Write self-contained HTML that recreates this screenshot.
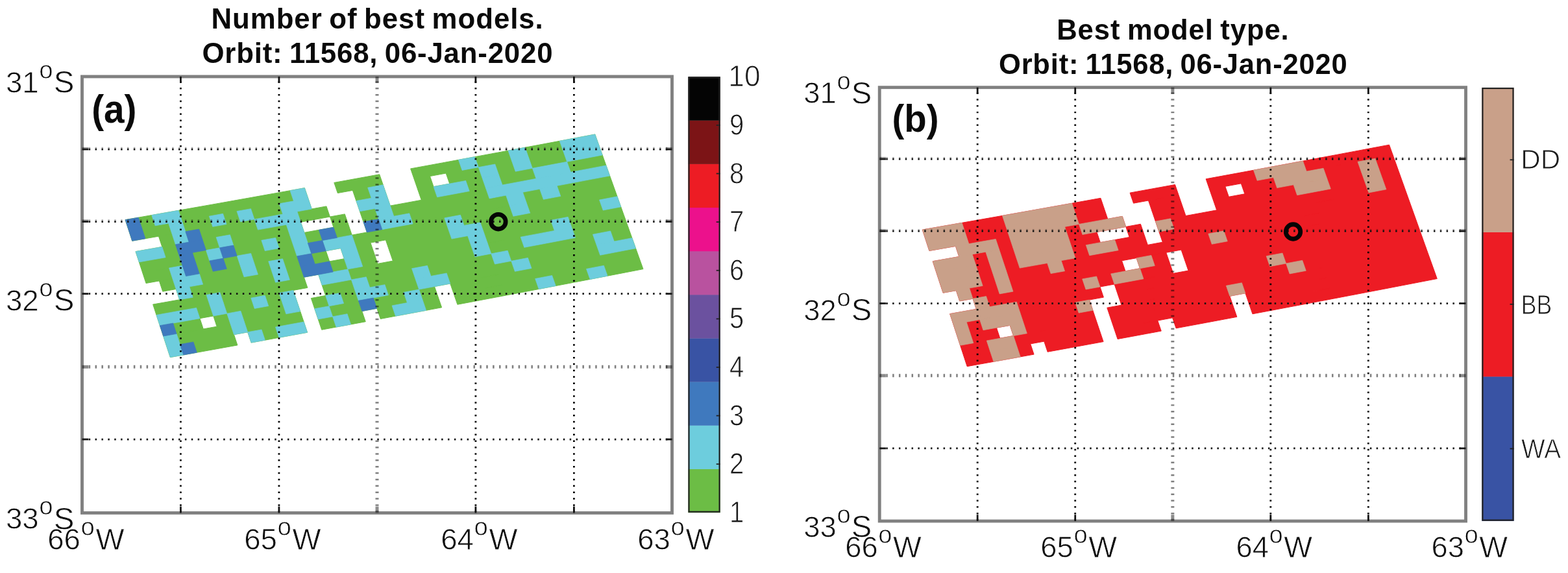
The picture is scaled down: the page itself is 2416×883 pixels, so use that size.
<!DOCTYPE html>
<html><head><meta charset="utf-8"><title>Best models</title>
<style>html,body{margin:0;padding:0;background:#fff}svg{display:block}</style></head>
<body>
<svg width="2416" height="883" viewBox="0 0 2416 883">
<style>
text{font-family:"Liberation Sans",sans-serif;fill:#0d0d0d}
.ttl{font-weight:bold;text-anchor:middle;fill:#0a0a0a;letter-spacing:0.95px;word-spacing:-2.5px}
.pl{font-weight:bold;fill:#0a0a0a}
.cb{fill:#1a1a1a;stroke:#fff;stroke-width:0.9px}
.lab{stroke:#fff;stroke-width:0.8px}
line{fill:none}
.gv{stroke:#000}
.gv3{stroke:rgba(0,0,0,0.5)}
.gh1{stroke:rgba(0,0,0,0.33)}
.gh2{stroke:#111}
.tv{stroke:#111}
.tv3{stroke:rgba(0,0,0,0.45)}
.th1{stroke:rgba(0,0,0,0.4)}
.th2{stroke:#151515}
.box{stroke:#808080;fill:none}
.cbb{stroke:#222;stroke-width:2.2;fill:none}
.cbt{stroke:#222;stroke-width:1.8}
.mk{stroke:#050505;stroke-width:6.8;fill:none}
</style>
<defs><filter id="soft" x="0" y="0" width="100%" height="100%" filterUnits="userSpaceOnUse" color-interpolation-filters="sRGB"><feGaussianBlur stdDeviation="0.6"/></filter><filter id="soft2" x="0" y="0" width="100%" height="100%" filterUnits="userSpaceOnUse" color-interpolation-filters="sRGB"><feGaussianBlur stdDeviation="0.4"/></filter></defs>
<rect width="2416" height="883" fill="#fff"/>
<g id="cellsA" filter="url(#soft)"><path fill="#6cbd45" stroke="#6cbd45" stroke-width="1" stroke-linejoin="round" d="M193.00 338.70L213.30 335.15L233.73 331.57L254.30 327.95L275.01 324.30L295.89 320.61L316.93 316.89L338.14 313.13L359.52 309.32L381.09 305.48L402.85 301.59L424.81 297.65L446.98 293.67L469.36 289.64L474.84 305.82L452.44 309.85L430.26 313.85L408.29 317.79L386.52 321.69L364.94 325.54L343.54 329.36L322.32 333.13L301.27 336.87L280.39 340.56L259.66 344.22L239.08 347.85L218.64 351.44L198.33 355.00ZM514.79 281.43L537.85 277.25L561.15 273.01L584.71 268.72L590.24 284.84L566.68 289.14L543.36 293.39L520.29 297.59ZM632.59 259.95L656.93 255.48L681.54 250.95L706.45 246.35L731.64 241.68L757.14 236.94L782.95 232.14L809.06 227.26L835.50 222.31L862.26 217.29L889.36 212.18L916.80 207.00L922.51 222.97L895.05 228.16L867.94 233.28L841.16 238.32L814.71 243.28L788.59 248.17L762.77 252.99L737.26 257.73L712.05 262.41L687.13 267.02L662.50 271.57L638.15 276.05ZM198.33 355.00L218.64 351.44L239.08 347.85L259.66 344.22L280.39 340.56L301.27 336.87L322.32 333.13L343.54 329.36L364.94 325.54L386.52 321.69L408.29 317.79L430.26 313.85L452.44 309.85L474.84 305.82L480.31 321.99L457.91 326.04L435.71 330.04L413.73 333.99L391.95 337.90L370.36 341.77L348.95 345.59L327.72 349.37L306.66 353.12L285.76 356.82L265.02 360.49L244.43 364.13L223.98 367.73L203.66 371.30ZM543.36 293.39L566.68 289.14L590.24 284.84L595.78 300.96L572.20 305.28L548.87 309.53ZM638.15 276.05L662.50 271.57L668.07 287.66L643.70 292.15ZM687.13 267.02L712.05 262.41L737.26 257.73L762.77 252.99L788.59 248.17L814.71 243.28L841.16 238.32L867.94 233.28L895.05 228.16L922.51 222.97L928.22 238.94L900.75 244.15L873.62 249.27L846.83 254.33L820.37 259.30L794.22 264.20L768.39 269.03L742.87 273.79L717.65 278.48L692.71 283.10ZM244.43 364.13L265.02 360.49L285.76 356.82L306.66 353.12L327.72 349.37L348.95 345.59L370.36 341.77L391.95 337.90L413.73 333.99L435.71 330.04L457.91 326.04L480.31 321.99L502.93 317.89L508.42 334.05L485.79 338.16L463.37 342.22L441.17 346.23L419.17 350.20L397.38 354.12L375.78 357.99L354.36 361.83L333.11 365.62L312.04 369.37L291.13 373.09L270.39 376.77L249.78 380.41ZM548.87 309.53L572.20 305.28L595.78 300.96L601.31 317.08L577.72 321.41L554.38 325.68ZM643.70 292.15L668.07 287.66L692.71 283.10L717.65 278.48L742.87 273.79L768.39 269.03L794.22 264.20L820.37 259.30L846.83 254.33L873.62 249.27L900.75 244.15L928.22 238.94L933.92 254.91L906.44 260.13L879.30 265.27L852.49 270.33L826.02 275.32L799.86 280.23L774.02 285.07L748.48 289.84L723.24 294.54L698.30 299.18L673.64 303.75L649.26 308.25ZM208.99 387.60L229.32 384.02L249.78 380.41L270.39 376.77L291.13 373.09L312.04 369.37L333.11 365.62L354.36 361.83L375.78 357.99L397.38 354.12L419.17 350.20L441.17 346.23L463.37 342.22L468.83 358.41L446.62 362.43L424.61 366.40L402.81 370.33L381.19 374.22L359.76 378.06L338.51 381.86L317.43 385.62L296.51 389.35L275.75 393.04L255.14 396.69L234.66 400.31L214.32 403.90ZM508.42 334.05L531.28 329.89L536.78 346.04L513.90 350.22ZM554.38 325.68L577.72 321.41L601.31 317.08L625.15 312.70L649.26 308.25L673.64 303.75L698.30 299.18L723.24 294.54L748.48 289.84L774.02 285.07L799.86 280.23L826.02 275.32L852.49 270.33L879.30 265.27L906.44 260.13L933.92 254.91L939.63 270.88L912.13 276.11L884.98 281.26L858.16 286.34L831.67 291.34L805.50 296.26L779.64 301.11L754.09 305.90L728.84 310.61L703.88 315.25L679.22 319.83L654.82 324.35L630.70 328.81L606.85 333.20L583.24 337.54L559.89 341.82ZM214.32 403.90L234.66 400.31L255.14 396.69L275.75 393.04L296.51 389.35L317.43 385.62L338.51 381.86L359.76 378.06L381.19 374.22L402.81 370.33L424.61 366.40L446.62 362.43L468.83 358.41L491.26 354.34L513.90 350.22L536.78 346.04L542.28 362.20L519.39 366.38L496.73 370.51L474.30 374.59L452.07 378.62L430.05 382.61L408.24 386.55L386.61 390.44L365.17 394.29L343.91 398.11L322.81 401.88L301.88 405.61L281.11 409.31L260.49 412.97L240.00 416.60L219.65 420.20ZM559.89 341.82L583.24 337.54L606.85 333.20L630.70 328.81L654.82 324.35L679.22 319.83L703.88 315.25L728.84 310.61L754.09 305.90L779.64 301.11L805.50 296.26L831.67 291.34L858.16 286.34L884.98 281.26L912.13 276.11L939.63 270.88L945.34 286.85L917.83 292.09L890.66 297.26L863.82 302.34L837.32 307.35L811.14 312.29L785.27 317.16L759.70 321.95L734.44 326.67L709.47 331.33L684.79 335.92L660.38 340.45L636.25 344.92L612.38 349.32L588.77 353.67L565.40 357.96ZM219.65 420.20L240.00 416.60L260.49 412.97L281.11 409.31L301.88 405.61L322.81 401.88L343.91 398.11L365.17 394.29L386.61 390.44L408.24 386.55L430.05 382.61L452.07 378.62L474.30 374.59L496.73 370.51L519.39 366.38L542.28 362.20L565.40 357.96L588.77 353.67L612.38 349.32L636.25 344.92L660.38 340.45L684.79 335.92L709.47 331.33L734.44 326.67L759.70 321.95L785.27 317.16L811.14 312.29L837.32 307.35L863.82 302.34L890.66 297.26L917.83 292.09L945.34 286.85L951.05 302.82L923.52 308.07L896.34 313.25L869.49 318.35L842.97 323.37L816.78 328.32L790.89 333.20L765.31 338.00L740.04 342.74L715.05 347.41L690.36 352.01L665.94 356.55L641.79 361.03L617.91 365.44L594.29 369.80L570.91 374.10L547.78 378.35L524.88 382.54L502.21 386.68L479.76 390.77L457.52 394.82L435.49 398.81L413.67 402.76L392.03 406.66L370.57 410.53L349.30 414.35L328.19 418.13L307.25 421.87L286.47 425.58L265.84 429.25L245.34 432.89L224.98 436.50ZM245.34 432.89L265.84 429.25L286.47 425.58L307.25 421.87L328.19 418.13L349.30 414.35L370.57 410.53L392.03 406.66L413.67 402.76L435.49 398.81L457.52 394.82L479.76 390.77L502.21 386.68L507.68 402.86L485.22 406.96L462.97 411.01L440.93 415.02L419.09 418.97L397.45 422.89L375.98 426.76L354.70 430.59L333.58 434.38L312.63 438.14L291.84 441.85L271.19 445.54L250.68 449.18ZM524.88 382.54L547.78 378.35L570.91 374.10L576.42 390.25L553.28 394.50L530.36 398.71ZM594.29 369.80L617.91 365.44L641.79 361.03L665.94 356.55L690.36 352.01L715.05 347.41L740.04 342.74L765.31 338.00L790.89 333.20L816.78 328.32L842.97 323.37L869.49 318.35L896.34 313.25L923.52 308.07L951.05 302.82L956.75 318.78L929.21 324.05L902.02 329.24L875.15 334.36L848.62 339.39L822.41 344.35L796.52 349.24L770.92 354.06L745.64 358.80L720.64 363.48L695.93 368.10L671.50 372.65L647.34 377.14L623.45 381.56L599.81 385.93ZM271.19 445.54L291.84 441.85L312.63 438.14L333.58 434.38L354.70 430.59L375.98 426.76L397.45 422.89L419.09 418.97L440.93 415.02L462.97 411.01L485.22 406.96L507.68 402.86L530.36 398.71L553.28 394.50L576.42 390.25L581.93 406.39L558.77 410.66L535.85 414.87L513.16 419.03L490.69 423.14L468.42 427.20L446.37 431.22L424.52 435.19L402.86 439.11L381.39 442.99L360.09 446.84L338.96 450.64L318.00 454.40L297.20 458.13L276.54 461.82ZM599.81 385.93L623.45 381.56L647.34 377.14L671.50 372.65L695.93 368.10L720.64 363.48L745.64 358.80L770.92 354.06L796.52 349.24L822.41 344.35L848.62 339.39L875.15 334.36L902.02 329.24L929.21 324.05L956.75 318.78L962.46 334.75L934.91 340.04L907.70 345.24L880.82 350.36L854.28 355.41L828.05 360.38L802.14 365.28L776.53 370.11L751.23 374.87L726.22 379.56L701.51 384.19L677.06 388.75L652.89 393.25L628.98 397.69L605.33 402.07ZM235.65 469.10L256.03 465.47L276.54 461.82L297.20 458.13L318.00 454.40L338.96 450.64L360.09 446.84L381.39 442.99L402.86 439.11L424.52 435.19L446.37 431.22L468.42 427.20L473.87 443.40L451.81 447.42L429.95 451.40L408.28 455.34L386.79 459.23L365.49 463.08L344.35 466.89L323.38 470.66L302.56 474.40L281.90 478.10L261.37 481.77L240.98 485.40ZM490.69 423.14L513.16 419.03L535.85 414.87L558.77 410.66L581.93 406.39L605.33 402.07L628.98 397.69L652.89 393.25L677.06 388.75L701.51 384.19L726.22 379.56L751.23 374.87L776.53 370.11L802.14 365.28L828.05 360.38L854.28 355.41L880.82 350.36L907.70 345.24L934.91 340.04L962.46 334.75L968.17 350.72L940.60 356.02L913.38 361.23L886.48 366.37L859.93 371.43L833.69 376.41L807.77 381.32L782.15 386.16L756.83 390.93L731.81 395.64L707.08 400.27L682.62 404.85L658.44 409.36L634.52 413.81L610.86 418.20L587.44 422.53L564.27 426.81L541.34 431.03L518.63 435.21L496.15 439.33ZM240.98 485.40L261.37 481.77L281.90 478.10L302.56 474.40L323.38 470.66L344.35 466.89L365.49 463.08L386.79 459.23L408.28 455.34L429.95 451.40L451.81 447.42L457.25 463.63L435.38 467.62L413.70 471.56L392.20 475.46L370.88 479.32L349.73 483.14L328.75 486.92L307.93 490.67L287.25 494.38L266.71 498.06L246.31 501.70ZM496.15 439.33L518.63 435.21L541.34 431.03L564.27 426.81L587.44 422.53L610.86 418.20L634.52 413.81L658.44 409.36L682.62 404.85L707.08 400.27L731.81 395.64L756.83 390.93L782.15 386.16L807.77 381.32L833.69 376.41L859.93 371.43L886.48 366.37L913.38 361.23L940.60 356.02L968.17 350.72L973.88 366.69L946.29 372.00L919.05 377.23L892.15 382.38L865.58 387.45L839.33 392.44L813.39 397.37L787.76 402.22L762.43 407.00L737.40 411.71L712.65 416.36L688.18 420.95L663.98 425.47L640.05 429.93L616.38 434.33L592.95 438.67L569.77 442.96L546.82 447.20L524.11 451.38L501.61 455.51ZM246.31 501.70L266.71 498.06L287.25 494.38L307.93 490.67L313.29 506.94L292.60 510.66L272.05 514.35L251.64 518.00ZM328.75 486.92L349.73 483.14L370.88 479.32L392.20 475.46L413.70 471.56L435.38 467.62L457.25 463.63L462.69 479.83L440.81 483.83L419.12 487.78L397.61 491.70L376.28 495.57L355.12 499.40L334.12 503.19ZM479.33 459.59L501.61 455.51L524.11 451.38L546.82 447.20L569.77 442.96L592.95 438.67L616.38 434.33L640.05 429.93L663.98 425.47L688.18 420.95L712.65 416.36L737.40 411.71L762.43 407.00L787.76 402.22L813.39 397.37L839.33 392.44L865.58 387.45L892.15 382.38L919.05 377.23L946.29 372.00L973.88 366.69L979.58 382.66L951.99 387.98L924.73 393.22L897.81 398.38L871.23 403.47L844.97 408.47L819.01 413.41L793.37 418.27L768.03 423.07L742.98 427.79L718.22 432.45L693.74 437.04L669.53 441.58L645.59 446.05L621.90 450.46L598.46 454.82L575.27 459.12L552.31 463.36L529.58 467.55L507.07 471.69L484.78 475.79ZM251.64 518.00L272.05 514.35L292.60 510.66L313.29 506.94L334.12 503.19L355.12 499.40L376.28 495.57L397.61 491.70L419.12 487.78L440.81 483.83L462.69 479.83L468.13 496.04L446.24 500.04L424.53 504.01L403.01 507.93L381.67 511.81L360.50 515.65L339.50 519.45L318.65 523.21L297.95 526.94L277.39 530.64L256.97 534.30ZM484.78 475.79L507.07 471.69L529.58 467.55L552.31 463.36L575.27 459.12L598.46 454.82L621.90 450.46L645.59 446.05L669.53 441.58L675.08 457.69L651.12 462.17L627.42 466.59L603.97 470.96L580.77 475.27L557.80 479.52L535.06 483.73L512.54 487.88L490.23 491.98ZM693.74 437.04L718.22 432.45L742.98 427.79L768.03 423.07L793.37 418.27L819.01 413.41L844.97 408.47L871.23 403.47L897.81 398.38L924.73 393.22L951.99 387.98L979.58 382.66L985.29 398.63L957.68 403.96L930.41 409.22L903.48 414.39L876.88 419.48L850.60 424.50L824.64 429.45L798.98 434.33L773.63 439.13L748.57 443.87L723.80 448.54L699.30 453.14ZM256.97 534.30L277.39 530.64L297.95 526.94L318.65 523.21L339.50 519.45L360.50 515.65L365.88 531.90L344.87 535.71L324.01 539.49L303.30 543.22L282.73 546.93L262.30 550.60ZM381.67 511.81L403.01 507.93L424.53 504.01L446.24 500.04L468.13 496.04L473.57 512.24L451.67 516.26L429.95 520.23L408.42 524.16L387.07 528.05ZM490.23 491.98L512.54 487.88L535.06 483.73L557.80 479.52L563.28 495.69L540.53 499.90L518.00 504.06L495.68 508.18ZM580.77 475.27L603.97 470.96L627.42 466.59L651.12 462.17L675.08 457.69L680.62 473.80L656.66 478.29L632.95 482.72L609.48 487.10L586.27 491.42ZM699.30 453.14L723.80 448.54L748.57 443.87L773.63 439.13L798.98 434.33L824.64 429.45L850.60 424.50L876.88 419.48L903.48 414.39L930.41 409.22L957.68 403.96L985.29 398.63L991.00 414.60L963.37 419.95L936.09 425.21L909.15 430.40L882.53 435.50L856.24 440.53L830.26 445.49L804.59 450.38L779.23 455.20L754.15 459.94L729.37 464.63L704.86 469.24Z"/>
<path fill="#6dcddd" stroke="#6dcddd" stroke-width="0.7" stroke-linejoin="round" d="M233.73 331.57L254.30 327.95L275.01 324.30L280.39 340.56L259.66 344.22L239.08 347.85ZM446.98 293.67L469.36 289.64L474.84 305.82L452.44 309.85ZM706.45 246.35L731.64 241.68L737.26 257.73L712.05 262.41ZM782.95 232.14L809.06 227.26L814.71 243.28L788.59 248.17ZM862.26 217.29L889.36 212.18L916.80 207.00L922.51 222.97L895.05 228.16L867.94 233.28ZM259.66 344.22L280.39 340.56L285.76 356.82L265.02 360.49ZM322.32 333.13L343.54 329.36L348.95 345.59L327.72 349.37ZM364.94 325.54L386.52 321.69L391.95 337.90L370.36 341.77ZM430.26 313.85L452.44 309.85L474.84 305.82L480.31 321.99L457.91 326.04L435.71 330.04ZM566.68 289.14L590.24 284.84L595.78 300.96L572.20 305.28ZM737.26 257.73L762.77 252.99L768.39 269.03L742.87 273.79ZM788.59 248.17L814.71 243.28L820.37 259.30L794.22 264.20ZM867.94 233.28L895.05 228.16L922.51 222.97L928.22 238.94L900.75 244.15L873.62 249.27ZM265.02 360.49L285.76 356.82L291.13 373.09L270.39 376.77ZM391.95 337.90L413.73 333.99L435.71 330.04L457.91 326.04L463.37 342.22L441.17 346.23L419.17 350.20L397.38 354.12ZM548.87 309.53L572.20 305.28L595.78 300.96L601.31 317.08L577.72 321.41L554.38 325.68ZM668.07 287.66L692.71 283.10L717.65 278.48L723.24 294.54L698.30 299.18L673.64 303.75ZM742.87 273.79L768.39 269.03L774.02 285.07L748.48 289.84ZM820.37 259.30L846.83 254.33L873.62 249.27L879.30 265.27L852.49 270.33L826.02 275.32ZM208.99 387.60L229.32 384.02L249.78 380.41L255.14 396.69L234.66 400.31L214.32 403.90ZM333.11 365.62L354.36 361.83L359.76 378.06L338.51 381.86ZM441.17 346.23L463.37 342.22L468.83 358.41L446.62 362.43ZM577.72 321.41L601.31 317.08L606.85 333.20L583.24 337.54ZM748.48 289.84L774.02 285.07L799.86 280.23L826.02 275.32L852.49 270.33L879.30 265.27L906.44 260.13L933.92 254.91L939.63 270.88L912.13 276.11L884.98 281.26L858.16 286.34L831.67 291.34L805.50 296.26L779.64 301.11L754.09 305.90ZM317.43 385.62L338.51 381.86L343.91 398.11L322.81 401.88ZM402.81 370.33L424.61 366.40L430.05 382.61L408.24 386.55ZM446.62 362.43L468.83 358.41L474.30 374.59L452.07 378.62ZM583.24 337.54L606.85 333.20L630.70 328.81L636.25 344.92L612.38 349.32L588.77 353.67ZM779.64 301.11L805.50 296.26L811.14 312.29L785.27 317.16ZM831.67 291.34L858.16 286.34L863.82 302.34L837.32 307.35ZM260.49 412.97L281.11 409.31L286.47 425.58L265.84 429.25ZM365.17 394.29L386.61 390.44L392.03 406.66L370.57 410.53ZM452.07 378.62L474.30 374.59L479.76 390.77L457.52 394.82ZM496.73 370.51L519.39 366.38L542.28 362.20L547.78 378.35L524.88 382.54L502.21 386.68ZM684.79 335.92L709.47 331.33L715.05 347.41L690.36 352.01ZM785.27 317.16L811.14 312.29L816.78 328.32L790.89 333.20ZM265.84 429.25L286.47 425.58L307.25 421.87L312.63 438.14L291.84 441.85L271.19 445.54ZM370.57 410.53L392.03 406.66L397.45 422.89L375.98 426.76ZM413.67 402.76L435.49 398.81L440.93 415.02L419.09 418.97ZM524.88 382.54L547.78 378.35L553.28 394.50L530.36 398.71ZM690.36 352.01L715.05 347.41L740.04 342.74L745.64 358.80L720.64 363.48L695.93 368.10ZM923.52 308.07L951.05 302.82L956.75 318.78L929.21 324.05ZM271.19 445.54L291.84 441.85L297.20 458.13L276.54 461.82ZM419.09 418.97L440.93 415.02L446.37 431.22L424.52 435.19ZM530.36 398.71L553.28 394.50L558.77 410.66L535.85 414.87ZM720.64 363.48L745.64 358.80L751.23 374.87L726.22 379.56ZM848.62 339.39L875.15 334.36L880.82 350.36L854.28 355.41ZM318.00 454.40L338.96 450.64L344.35 466.89L323.38 470.66ZM490.69 423.14L513.16 419.03L535.85 414.87L541.34 431.03L518.63 435.21L496.15 439.33ZM726.22 379.56L751.23 374.87L756.83 390.93L731.81 395.64ZM802.14 365.28L828.05 360.38L854.28 355.41L880.82 350.36L886.48 366.37L859.93 371.43L833.69 376.41L807.77 381.32ZM240.98 485.40L261.37 481.77L281.90 478.10L302.56 474.40L307.93 490.67L287.25 494.38L266.71 498.06L246.31 501.70ZM323.38 470.66L344.35 466.89L349.73 483.14L328.75 486.92ZM386.79 459.23L408.28 455.34L413.70 471.56L392.20 475.46ZM429.95 451.40L451.81 447.42L457.25 463.63L435.38 467.62ZM541.34 431.03L564.27 426.81L569.77 442.96L546.82 447.20ZM634.52 413.81L658.44 409.36L663.98 425.47L640.05 429.93ZM756.83 390.93L782.15 386.16L787.76 402.22L762.43 407.00ZM913.38 361.23L940.60 356.02L946.29 372.00L919.05 377.23ZM349.73 483.14L370.88 479.32L376.28 495.57L355.12 499.40ZM435.38 467.62L457.25 463.63L462.69 479.83L440.81 483.83ZM501.61 455.51L524.11 451.38L529.58 467.55L507.07 471.69ZM546.82 447.20L569.77 442.96L592.95 438.67L598.46 454.82L575.27 459.12L552.31 463.36ZM640.05 429.93L663.98 425.47L688.18 420.95L693.74 437.04L669.53 441.58L645.59 446.05ZM787.76 402.22L813.39 397.37L819.01 413.41L793.37 418.27ZM919.05 377.23L946.29 372.00L973.88 366.69L979.58 382.66L951.99 387.98L924.73 393.22ZM251.64 518.00L272.05 514.35L277.39 530.64L256.97 534.30ZM355.12 499.40L376.28 495.57L381.67 511.81L360.50 515.65ZM484.78 475.79L507.07 471.69L512.54 487.88L490.23 491.98ZM621.90 450.46L645.59 446.05L651.12 462.17L627.42 466.59ZM256.97 534.30L277.39 530.64L282.73 546.93L262.30 550.60ZM381.67 511.81L403.01 507.93L408.42 524.16L387.07 528.05ZM424.53 504.01L446.24 500.04L468.13 496.04L473.57 512.24L451.67 516.26L429.95 520.23ZM512.54 487.88L535.06 483.73L540.53 499.90L518.00 504.06ZM603.97 470.96L627.42 466.59L651.12 462.17L656.66 478.29L632.95 482.72L609.48 487.10ZM824.64 429.45L850.60 424.50L856.24 440.53L830.26 445.49ZM903.48 414.39L930.41 409.22L936.09 425.21L909.15 430.40Z"/>
<path fill="#3f79be" stroke="#3f79be" stroke-width="0.7" stroke-linejoin="round" d="M193.00 338.70L213.30 335.15L218.64 351.44L198.33 355.00ZM198.33 355.00L218.64 351.44L223.98 367.73L203.66 371.30ZM285.76 356.82L306.66 353.12L312.04 369.37L291.13 373.09ZM270.39 376.77L291.13 373.09L312.04 369.37L317.43 385.62L296.51 389.35L275.75 393.04ZM275.75 393.04L296.51 389.35L301.88 405.61L281.11 409.31ZM338.51 381.86L359.76 378.06L365.17 394.29L343.91 398.11ZM491.26 354.34L513.90 350.22L519.39 366.38L496.73 370.51ZM559.89 341.82L583.24 337.54L588.77 353.67L565.40 357.96ZM281.11 409.31L301.88 405.61L307.25 421.87L286.47 425.58ZM322.81 401.88L343.91 398.11L349.30 414.35L328.19 418.13ZM474.30 374.59L496.73 370.51L502.21 386.68L479.76 390.77ZM457.52 394.82L479.76 390.77L485.22 406.96L462.97 411.01ZM462.97 411.01L485.22 406.96L507.68 402.86L513.16 419.03L490.69 423.14L468.42 427.20ZM246.31 501.70L266.71 498.06L272.05 514.35L251.64 518.00ZM552.31 463.36L575.27 459.12L580.77 475.27L557.80 479.52ZM277.39 530.64L297.95 526.94L303.30 543.22L282.73 546.93Z"/></g>
<g id="axesA"><line class="gv" x1="278.40" y1="790.40" x2="278.40" y2="118.00" style="stroke-dasharray:2.50 7.38;stroke-dashoffset:-0.80;stroke-width:2.80"/>
<line class="gh1" x1="126.50" y1="227.77" x2="1035.50" y2="227.77" style="stroke-dasharray:2.50 7.38;stroke-dashoffset:-0.30;stroke-width:1.80"/>
<line class="gh2" x1="126.50" y1="230.07" x2="1035.50" y2="230.07" style="stroke-dasharray:2.50 7.38;stroke-dashoffset:-0.30;stroke-width:2.80"/>
<line class="gv" x1="429.90" y1="790.40" x2="429.90" y2="118.00" style="stroke-dasharray:2.50 7.38;stroke-dashoffset:-0.80;stroke-width:2.80"/>
<line class="gh1" x1="126.50" y1="339.23" x2="1035.50" y2="339.23" style="stroke-dasharray:2.50 7.38;stroke-dashoffset:-0.30;stroke-width:1.80"/>
<line class="gh2" x1="126.50" y1="341.53" x2="1035.50" y2="341.53" style="stroke-dasharray:2.50 7.38;stroke-dashoffset:-0.30;stroke-width:2.80"/>
<line class="gv3" x1="581.00" y1="790.40" x2="581.00" y2="118.00" style="stroke-dasharray:2.50 7.38;stroke-dashoffset:-0.80;stroke-width:5.00"/>
<line class="gh2" x1="126.50" y1="452.70" x2="1035.50" y2="452.70" style="stroke-dasharray:2.50 7.38;stroke-dashoffset:-0.30;stroke-width:2.80"/>
<line class="gv" x1="732.90" y1="790.40" x2="732.90" y2="118.00" style="stroke-dasharray:2.50 7.38;stroke-dashoffset:-0.80;stroke-width:2.80"/>
<line class="gv3" x1="126.50" y1="565.37" x2="1035.50" y2="565.37" style="stroke-dasharray:2.50 7.38;stroke-dashoffset:-0.30;stroke-width:5.00"/>
<line class="gv" x1="884.40" y1="790.40" x2="884.40" y2="118.00" style="stroke-dasharray:2.50 7.38;stroke-dashoffset:-0.80;stroke-width:2.80"/>
<line class="gh2" x1="126.50" y1="677.03" x2="1035.50" y2="677.03" style="stroke-dasharray:2.50 7.38;stroke-dashoffset:-0.30;stroke-width:2.80"/>
<rect class="box" x="126.50" y="118.00" width="909.00" height="672.40" style="stroke-width:4.90"/>
<line class="tv" x1="278.40" y1="118.00" x2="278.40" y2="127.80" style="stroke-width:2.80"/>
<line class="tv" x1="278.40" y1="790.40" x2="278.40" y2="780.60" style="stroke-width:2.80"/>
<line class="th1" x1="126.50" y1="227.77" x2="136.30" y2="227.77" style="stroke-width:1.80"/>
<line class="th2" x1="126.50" y1="230.07" x2="136.30" y2="230.07" style="stroke-width:2.80"/>
<line class="th1" x1="1035.50" y1="227.77" x2="1025.70" y2="227.77" style="stroke-width:1.80"/>
<line class="th2" x1="1035.50" y1="230.07" x2="1025.70" y2="230.07" style="stroke-width:2.80"/>
<line class="tv" x1="429.90" y1="118.00" x2="429.90" y2="127.80" style="stroke-width:2.80"/>
<line class="tv" x1="429.90" y1="790.40" x2="429.90" y2="780.60" style="stroke-width:2.80"/>
<line class="th1" x1="126.50" y1="339.23" x2="136.30" y2="339.23" style="stroke-width:1.80"/>
<line class="th2" x1="126.50" y1="341.53" x2="136.30" y2="341.53" style="stroke-width:2.80"/>
<line class="th1" x1="1035.50" y1="339.23" x2="1025.70" y2="339.23" style="stroke-width:1.80"/>
<line class="th2" x1="1035.50" y1="341.53" x2="1025.70" y2="341.53" style="stroke-width:2.80"/>
<line class="tv3" x1="581.00" y1="118.00" x2="581.00" y2="127.80" style="stroke-width:5.00"/>
<line class="tv3" x1="581.00" y1="790.40" x2="581.00" y2="780.60" style="stroke-width:5.00"/>
<line class="th2" x1="126.50" y1="452.70" x2="136.30" y2="452.70" style="stroke-width:2.80"/>
<line class="th2" x1="1035.50" y1="452.70" x2="1025.70" y2="452.70" style="stroke-width:2.80"/>
<line class="tv" x1="732.90" y1="118.00" x2="732.90" y2="127.80" style="stroke-width:2.80"/>
<line class="tv" x1="732.90" y1="790.40" x2="732.90" y2="780.60" style="stroke-width:2.80"/>
<line class="tv3" x1="126.50" y1="565.37" x2="136.30" y2="565.37" style="stroke-width:5.00"/>
<line class="tv3" x1="1035.50" y1="565.37" x2="1025.70" y2="565.37" style="stroke-width:5.00"/>
<line class="tv" x1="884.40" y1="118.00" x2="884.40" y2="127.80" style="stroke-width:2.80"/>
<line class="tv" x1="884.40" y1="790.40" x2="884.40" y2="780.60" style="stroke-width:2.80"/>
<line class="th2" x1="126.50" y1="677.03" x2="136.30" y2="677.03" style="stroke-width:2.80"/>
<line class="th2" x1="1035.50" y1="677.03" x2="1025.70" y2="677.03" style="stroke-width:2.80"/></g>
<circle class="mk" cx="767.8" cy="341.7" r="11.3"/>
<g id="cellsB" filter="url(#soft)"><path fill="#ed1c24" stroke="#ed1c24" stroke-width="1" stroke-linejoin="round" d="M1421.28 354.05L1441.45 350.52L1461.76 346.96L1482.20 343.37L1502.78 339.74L1523.53 336.08L1544.43 332.38L1565.51 328.64L1586.76 324.85L1608.20 321.03L1629.82 317.17L1651.64 313.26L1673.67 309.30L1695.91 305.30L1701.35 321.37L1679.10 325.38L1657.06 329.35L1635.22 333.27L1613.59 337.15L1592.15 340.98L1570.88 344.77L1549.80 348.52L1528.88 352.23L1508.12 355.90L1487.53 359.54L1467.07 363.15L1446.76 366.72L1426.58 370.25ZM1741.05 297.14L1763.97 292.98L1787.13 288.77L1810.53 284.50L1816.03 300.52L1792.62 304.80L1769.44 309.02L1746.52 313.19ZM1858.11 275.79L1882.30 271.34L1906.76 266.84L1931.51 262.26L1956.55 257.63L1981.89 252.92L2007.53 248.14L2033.48 243.30L2059.75 238.38L2086.35 233.38L2113.28 228.31L2140.54 223.16L2146.22 239.03L2118.93 244.19L2091.99 249.28L2065.38 254.29L2039.10 259.22L2013.13 264.08L1987.48 268.86L1962.13 273.58L1937.08 278.23L1912.31 282.82L1887.84 287.33L1863.64 291.79ZM1426.58 370.25L1446.76 366.72L1467.07 363.15L1487.53 359.54L1508.12 355.90L1528.88 352.23L1549.80 348.52L1570.88 344.77L1592.15 340.98L1613.59 337.15L1635.22 333.27L1657.06 329.35L1679.10 325.38L1701.35 321.37L1706.79 337.45L1684.53 341.47L1662.48 345.45L1640.63 349.38L1618.99 353.26L1597.53 357.10L1576.25 360.90L1555.16 364.66L1534.23 368.39L1513.46 372.07L1492.86 375.71L1472.39 379.33L1452.07 382.91L1431.88 386.46ZM1769.44 309.02L1792.62 304.80L1816.03 300.52L1821.53 316.54L1798.10 320.83L1774.92 325.07ZM1863.64 291.79L1887.84 287.33L1893.38 303.32L1869.16 307.79ZM1912.31 282.82L1937.08 278.23L1962.13 273.58L1987.48 268.86L2013.13 264.08L2039.10 259.22L2065.38 254.29L2091.99 249.28L2118.93 244.19L2146.22 239.03L2151.89 254.90L2124.59 260.08L2097.64 265.17L2071.01 270.19L2044.71 275.14L2018.74 280.01L1993.07 284.81L1967.70 289.54L1942.64 294.20L1917.86 298.79ZM1472.39 379.33L1492.86 375.71L1513.46 372.07L1534.23 368.39L1555.16 364.66L1576.25 360.90L1597.53 357.10L1618.99 353.26L1640.63 349.38L1662.48 345.45L1684.53 341.47L1706.79 337.45L1729.27 333.37L1734.72 349.44L1712.23 353.52L1689.96 357.56L1667.89 361.54L1646.04 365.48L1624.38 369.38L1602.91 373.23L1581.63 377.04L1560.52 380.81L1539.58 384.54L1518.80 388.23L1498.18 391.89L1477.71 395.51ZM1774.92 325.07L1798.10 320.83L1821.53 316.54L1827.03 332.57L1803.59 336.87L1780.40 341.11ZM1869.16 307.79L1893.38 303.32L1917.86 298.79L1942.64 294.20L1967.70 289.54L1993.07 284.81L2018.74 280.01L2044.71 275.14L2071.01 270.19L2097.64 265.17L2124.59 260.08L2151.89 254.90L2157.56 270.77L2130.25 275.96L2103.28 281.07L2076.64 286.10L2050.33 291.06L2024.34 295.94L1998.66 300.75L1973.28 305.49L1948.20 310.17L1923.41 314.77L1898.91 319.31L1874.69 323.79ZM1437.18 402.66L1457.37 399.10L1477.71 395.51L1498.18 391.89L1518.80 388.23L1539.58 384.54L1560.52 380.81L1581.63 377.04L1602.91 373.23L1624.38 369.38L1646.04 365.48L1667.89 361.54L1689.96 357.56L1695.39 373.64L1673.31 377.64L1651.44 381.59L1629.78 385.49L1608.30 389.35L1587.00 393.17L1565.88 396.95L1544.93 400.69L1524.14 404.40L1503.51 408.06L1483.03 411.69L1462.68 415.29L1442.47 418.86ZM1734.72 349.44L1757.44 345.30L1762.91 361.35L1740.17 365.50ZM1780.40 341.11L1803.59 336.87L1827.03 332.57L1850.73 328.21L1874.69 323.79L1898.91 319.31L1923.41 314.77L1948.20 310.17L1973.28 305.49L1998.66 300.75L2024.34 295.94L2050.33 291.06L2076.64 286.10L2103.28 281.07L2130.25 275.96L2157.56 270.77L2163.23 286.64L2135.91 291.85L2108.92 296.97L2082.27 302.01L2055.95 306.98L2029.94 311.87L2004.25 316.70L1978.85 321.45L1953.76 326.13L1928.96 330.75L1904.45 335.30L1880.21 339.79L1856.24 344.22L1832.53 348.59L1809.08 352.90L1785.87 357.15ZM1442.47 418.86L1462.68 415.29L1483.03 411.69L1503.51 408.06L1524.14 404.40L1544.93 400.69L1565.88 396.95L1587.00 393.17L1608.30 389.35L1629.78 385.49L1651.44 381.59L1673.31 377.64L1695.39 373.64L1717.67 369.60L1740.17 365.50L1762.91 361.35L1768.37 377.41L1745.63 381.57L1723.11 385.67L1700.82 389.73L1678.73 393.73L1656.85 397.69L1635.17 401.61L1613.68 405.48L1592.37 409.31L1571.24 413.10L1550.28 416.85L1529.48 420.56L1508.84 424.23L1488.35 427.87L1467.99 431.48L1447.77 435.06ZM1785.87 357.15L1809.08 352.90L1832.53 348.59L1856.24 344.22L1880.21 339.79L1904.45 335.30L1928.96 330.75L1953.76 326.13L1978.85 321.45L2004.25 316.70L2029.94 311.87L2055.95 306.98L2082.27 302.01L2108.92 296.97L2135.91 291.85L2163.23 286.64L2168.90 302.52L2141.57 307.73L2114.57 312.86L2087.90 317.92L2061.56 322.90L2035.54 327.81L2009.84 332.64L1984.43 337.41L1959.33 342.10L1934.51 346.73L1909.99 351.29L1885.74 355.79L1861.75 360.23L1838.03 364.61L1814.57 368.93L1791.35 373.20ZM1447.77 435.06L1467.99 431.48L1488.35 427.87L1508.84 424.23L1529.48 420.56L1550.28 416.85L1571.24 413.10L1592.37 409.31L1613.68 405.48L1635.17 401.61L1656.85 397.69L1678.73 393.73L1700.82 389.73L1723.11 385.67L1745.63 381.57L1768.37 377.41L1791.35 373.20L1814.57 368.93L1838.03 364.61L1861.75 360.23L1885.74 355.79L1909.99 351.29L1934.51 346.73L1959.33 342.10L1984.43 337.41L2009.84 332.64L2035.54 327.81L2061.56 322.90L2087.90 317.92L2114.57 312.86L2141.57 307.73L2168.90 302.52L2174.58 318.39L2147.22 323.61L2120.21 328.76L2093.53 333.83L2067.18 338.82L2041.15 343.74L2015.43 348.59L1990.01 353.36L1964.89 358.07L1940.06 362.71L1915.53 367.28L1891.26 371.79L1867.26 376.25L1843.53 380.63L1820.06 384.97L1796.82 389.24L1773.84 393.46L1751.08 397.63L1728.55 401.75L1706.24 405.81L1684.14 409.83L1662.25 413.80L1640.57 417.72L1619.06 421.60L1597.74 425.44L1576.60 429.24L1555.63 433.00L1534.82 436.72L1514.17 440.41L1493.67 444.06L1473.30 447.67L1453.07 451.26ZM1473.30 447.67L1493.67 444.06L1514.17 440.41L1534.82 436.72L1555.63 433.00L1576.60 429.24L1597.74 425.44L1619.06 421.60L1640.57 417.72L1662.25 413.80L1684.14 409.83L1706.24 405.81L1728.55 401.75L1733.99 417.82L1711.67 421.90L1689.56 425.92L1667.66 429.90L1645.96 433.84L1624.45 437.73L1603.12 441.58L1581.97 445.39L1560.98 449.15L1540.16 452.89L1519.50 456.58L1498.98 460.24L1478.61 463.86ZM1751.08 397.63L1773.84 393.46L1796.82 389.24L1802.30 405.29L1779.30 409.52L1756.53 413.70ZM1820.06 384.97L1843.53 380.63L1867.26 376.25L1891.26 371.79L1915.53 367.28L1940.06 362.71L1964.89 358.07L1990.01 353.36L2015.43 348.59L2041.15 343.74L2067.18 338.82L2093.53 333.83L2120.21 328.76L2147.22 323.61L2174.58 318.39L2180.25 334.26L2152.88 339.50L2125.85 344.66L2099.16 349.74L2072.80 354.74L2046.75 359.67L2021.01 364.53L1995.58 369.32L1970.45 374.04L1945.61 378.69L1921.06 383.27L1896.79 387.80L1872.78 392.26L1849.03 396.66L1825.54 401.00ZM1498.98 460.24L1519.50 456.58L1540.16 452.89L1560.98 449.15L1581.97 445.39L1603.12 441.58L1624.45 437.73L1645.96 433.84L1667.66 429.90L1689.56 425.92L1711.67 421.90L1733.99 417.82L1756.53 413.70L1779.30 409.52L1802.30 405.29L1807.77 421.33L1784.76 425.57L1761.98 429.76L1739.43 433.90L1717.10 437.98L1694.98 442.02L1673.07 446.01L1651.35 449.95L1629.83 453.85L1608.49 457.71L1587.33 461.53L1566.33 465.31L1545.50 469.05L1524.83 472.75L1504.30 476.42ZM1825.54 401.00L1849.03 396.66L1872.78 392.26L1896.79 387.80L1921.06 383.27L1945.61 378.69L1970.45 374.04L1995.58 369.32L2021.01 364.53L2046.75 359.67L2072.80 354.74L2099.16 349.74L2125.85 344.66L2152.88 339.50L2180.25 334.26L2185.92 350.13L2158.54 355.38L2131.50 360.55L2104.79 365.65L2078.41 370.66L2052.35 375.60L2026.60 380.47L2001.16 385.27L1976.02 390.00L1951.16 394.67L1926.60 399.26L1902.31 403.80L1878.29 408.27L1854.53 412.68L1831.03 417.03ZM1463.66 483.66L1483.91 480.06L1504.30 476.42L1524.83 472.75L1545.50 469.05L1566.33 465.31L1587.33 461.53L1608.49 457.71L1629.83 453.85L1651.35 449.95L1673.07 446.01L1694.98 442.02L1700.40 458.11L1678.47 462.11L1656.75 466.07L1635.22 469.98L1613.86 473.85L1592.69 477.67L1571.68 481.46L1550.84 485.21L1530.16 488.92L1509.62 492.60L1489.22 496.25L1468.96 499.86ZM1717.10 437.98L1739.43 433.90L1761.98 429.76L1784.76 425.57L1807.77 421.33L1831.03 417.03L1854.53 412.68L1878.29 408.27L1902.31 403.80L1926.60 399.26L1951.16 394.67L1976.02 390.00L2001.16 385.27L2026.60 380.47L2052.35 375.60L2078.41 370.66L2104.79 365.65L2131.50 360.55L2158.54 355.38L2185.92 350.13L2191.59 366.00L2164.20 371.27L2137.14 376.45L2110.42 381.56L2084.03 386.58L2057.96 391.54L2032.19 396.42L2006.73 401.23L1981.58 405.97L1956.71 410.65L1932.14 415.25L1907.84 419.80L1883.80 424.28L1860.03 428.70L1836.52 433.07L1813.25 437.37L1790.23 441.63L1767.44 445.82L1744.87 449.97L1722.53 454.07ZM1468.96 499.86L1489.22 496.25L1509.62 492.60L1530.16 488.92L1550.84 485.21L1571.68 481.46L1592.69 477.67L1613.86 473.85L1635.22 469.98L1656.75 466.07L1678.47 462.11L1683.88 478.22L1662.14 482.18L1640.60 486.10L1619.23 489.98L1598.05 493.82L1577.03 497.62L1556.18 501.38L1535.49 505.10L1514.94 508.78L1494.53 512.44L1474.26 516.06ZM1722.53 454.07L1744.87 449.97L1767.44 445.82L1790.23 441.63L1813.25 437.37L1836.52 433.07L1860.03 428.70L1883.80 424.28L1907.84 419.80L1932.14 415.25L1956.71 410.65L1981.58 405.97L2006.73 401.23L2032.19 396.42L2057.96 391.54L2084.03 386.58L2110.42 381.56L2137.14 376.45L2164.20 371.27L2191.59 366.00L2197.26 381.88L2169.85 387.15L2142.78 392.35L2116.05 397.46L2089.64 402.50L2063.56 407.47L2037.78 412.36L2012.31 417.19L1987.14 421.94L1962.26 426.62L1937.67 431.24L1913.36 435.80L1889.31 440.29L1865.53 444.73L1842.01 449.10L1818.73 453.42L1795.69 457.68L1772.89 461.89L1750.31 466.05L1727.96 470.15ZM1474.26 516.06L1494.53 512.44L1514.94 508.78L1535.49 505.10L1540.82 521.27L1520.26 524.97L1499.84 528.63L1479.55 532.26ZM1556.18 501.38L1577.03 497.62L1598.05 493.82L1619.23 489.98L1640.60 486.10L1662.14 482.18L1683.88 478.22L1689.28 494.33L1667.54 498.30L1645.98 502.23L1624.61 506.12L1603.41 509.96L1582.38 513.77L1561.52 517.54ZM1705.81 474.21L1727.96 470.15L1750.31 466.05L1772.89 461.89L1795.69 457.68L1818.73 453.42L1842.01 449.10L1865.53 444.73L1889.31 440.29L1913.36 435.80L1937.67 431.24L1962.26 426.62L1987.14 421.94L2012.31 417.19L2037.78 412.36L2063.56 407.47L2089.64 402.50L2116.05 397.46L2142.78 392.35L2169.85 387.15L2197.26 381.88L2202.94 397.75L2175.51 403.04L2148.43 408.24L2121.68 413.37L2095.26 418.42L2069.16 423.40L2043.37 428.31L2017.89 433.14L1992.71 437.91L1967.81 442.60L1943.21 447.23L1918.89 451.80L1894.83 456.30L1871.03 460.75L1847.49 465.13L1824.20 469.46L1801.15 473.74L1778.34 477.95L1755.76 482.12L1733.39 486.24L1711.23 490.31ZM1479.55 532.26L1499.84 528.63L1520.26 524.97L1540.82 521.27L1561.52 517.54L1582.38 513.77L1603.41 509.96L1624.61 506.12L1645.98 502.23L1667.54 498.30L1689.28 494.33L1694.69 510.43L1672.93 514.41L1651.37 518.35L1629.98 522.25L1608.77 526.11L1587.73 529.92L1566.86 533.70L1546.15 537.44L1525.58 541.15L1505.15 544.82L1484.85 548.46ZM1711.23 490.31L1733.39 486.24L1755.76 482.12L1778.34 477.95L1801.15 473.74L1824.20 469.46L1847.49 465.13L1871.03 460.75L1894.83 456.30L1900.34 472.32L1876.53 476.77L1852.98 481.17L1829.68 485.51L1806.62 489.79L1783.79 494.02L1761.20 498.20L1738.82 502.32L1716.65 506.40ZM1918.89 451.80L1943.21 447.23L1967.81 442.60L1992.71 437.91L2017.89 433.14L2043.37 428.31L2069.16 423.40L2095.26 418.42L2121.68 413.37L2148.43 408.24L2175.51 403.04L2202.94 397.75L2208.61 413.62L2181.17 418.92L2154.07 424.14L2127.31 429.28L2100.88 434.35L2074.76 439.33L2048.96 444.25L2023.46 449.10L1998.27 453.87L1973.36 458.58L1948.75 463.22L1924.41 467.80ZM1484.85 548.46L1505.15 544.82L1525.58 541.15L1546.15 537.44L1566.86 533.70L1587.73 529.92L1593.08 546.08L1572.20 549.87L1551.48 553.62L1530.90 557.33L1510.45 561.01L1490.15 564.66ZM1608.77 526.11L1629.98 522.25L1651.37 518.35L1672.93 514.41L1694.69 510.43L1700.10 526.54L1678.33 530.53L1656.75 534.48L1635.35 538.39L1614.13 542.25ZM1716.65 506.40L1738.82 502.32L1761.20 498.20L1783.79 494.02L1789.24 510.08L1766.64 514.27L1744.25 518.41L1722.07 522.50ZM1806.62 489.79L1829.68 485.51L1852.98 481.17L1876.53 476.77L1900.34 472.32L1905.85 488.33L1882.03 492.79L1858.47 497.20L1835.15 501.55L1812.08 505.84ZM1924.41 467.80L1948.75 463.22L1973.36 458.58L1998.27 453.87L2023.46 449.10L2048.96 444.25L2074.76 439.33L2100.88 434.35L2127.31 429.28L2154.07 424.14L2181.17 418.92L2208.61 413.62L2214.28 429.49L2186.83 434.80L2159.72 440.04L2132.94 445.19L2106.49 450.27L2080.37 455.27L2054.55 460.20L2029.04 465.05L2003.83 469.84L1978.91 474.56L1954.29 479.21L1929.93 483.80Z"/>
<path fill="#c9a089" stroke="#c9a089" stroke-width="0.7" stroke-linejoin="round" d="M1421.28 354.05L1441.45 350.52L1461.76 346.96L1482.20 343.37L1487.53 359.54L1467.07 363.15L1446.76 366.72L1426.58 370.25ZM1544.43 332.38L1565.51 328.64L1586.76 324.85L1608.20 321.03L1629.82 317.17L1651.64 313.26L1657.06 329.35L1635.22 333.27L1613.59 337.15L1592.15 340.98L1570.88 344.77L1549.80 348.52ZM1931.51 262.26L1956.55 257.63L1981.89 252.92L2007.53 248.14L2013.13 264.08L1987.48 268.86L1962.13 273.58L1937.08 278.23ZM1426.58 370.25L1446.76 366.72L1467.07 363.15L1487.53 359.54L1492.86 375.71L1472.39 379.33L1452.07 382.91L1431.88 386.46ZM1549.80 348.52L1570.88 344.77L1592.15 340.98L1613.59 337.15L1635.22 333.27L1657.06 329.35L1662.48 345.45L1640.63 349.38L1618.99 353.26L1597.53 357.10L1576.25 360.90L1555.16 364.66ZM1962.13 273.58L1987.48 268.86L2013.13 264.08L2039.10 259.22L2044.71 275.14L2018.74 280.01L1993.07 284.81L1967.70 289.54ZM2091.99 249.28L2118.93 244.19L2124.59 260.08L2097.64 265.17ZM1472.39 379.33L1492.86 375.71L1513.46 372.07L1534.23 368.39L1539.58 384.54L1518.80 388.23L1498.18 391.89L1477.71 395.51ZM1555.16 364.66L1576.25 360.90L1597.53 357.10L1618.99 353.26L1640.63 349.38L1646.04 365.48L1624.38 369.38L1602.91 373.23L1581.63 377.04L1560.52 380.81ZM1662.48 345.45L1684.53 341.47L1706.79 337.45L1729.27 333.37L1734.72 349.44L1712.23 353.52L1689.96 357.56L1667.89 361.54ZM1993.07 284.81L2018.74 280.01L2044.71 275.14L2050.33 291.06L2024.34 295.94L1998.66 300.75ZM2097.64 265.17L2124.59 260.08L2130.25 275.96L2103.28 281.07ZM1437.18 402.66L1457.37 399.10L1477.71 395.51L1498.18 391.89L1503.51 408.06L1483.03 411.69L1462.68 415.29L1442.47 418.86ZM1518.80 388.23L1539.58 384.54L1544.93 400.69L1524.14 404.40ZM1560.52 380.81L1581.63 377.04L1602.91 373.23L1624.38 369.38L1646.04 365.48L1651.44 381.59L1629.78 385.49L1608.30 389.35L1587.00 393.17L1565.88 396.95ZM1780.40 341.11L1803.59 336.87L1809.08 352.90L1785.87 357.15ZM2103.28 281.07L2130.25 275.96L2135.91 291.85L2108.92 296.97ZM1442.47 418.86L1462.68 415.29L1483.03 411.69L1503.51 408.06L1508.84 424.23L1488.35 427.87L1467.99 431.48L1447.77 435.06ZM1524.14 404.40L1544.93 400.69L1550.28 416.85L1529.48 420.56ZM1565.88 396.95L1587.00 393.17L1608.30 389.35L1629.78 385.49L1651.44 381.59L1656.85 397.69L1635.17 401.61L1613.68 405.48L1592.37 409.31L1571.24 413.10ZM1673.31 377.64L1695.39 373.64L1717.67 369.60L1723.11 385.67L1700.82 389.73L1678.73 393.73ZM1447.77 435.06L1467.99 431.48L1488.35 427.87L1508.84 424.23L1514.17 440.41L1493.67 444.06L1473.30 447.67L1453.07 451.26ZM1529.48 420.56L1550.28 416.85L1555.63 433.00L1534.82 436.72ZM1613.68 405.48L1635.17 401.61L1640.57 417.72L1619.06 421.60ZM1861.75 360.23L1885.74 355.79L1891.26 371.79L1867.26 376.25ZM1473.30 447.67L1493.67 444.06L1498.98 460.24L1478.61 463.86ZM1534.82 436.72L1555.63 433.00L1560.98 449.15L1540.16 452.89ZM1751.08 397.63L1773.84 393.46L1779.30 409.52L1756.53 413.70ZM1498.98 460.24L1519.50 456.58L1524.83 472.75L1504.30 476.42ZM1667.66 429.90L1689.56 425.92L1694.98 442.02L1673.07 446.01ZM1711.67 421.90L1733.99 417.82L1756.53 413.70L1761.98 429.76L1739.43 433.90L1717.10 437.98ZM1463.66 483.66L1483.91 480.06L1504.30 476.42L1524.83 472.75L1545.50 469.05L1566.33 465.31L1571.68 481.46L1550.84 485.21L1530.16 488.92L1509.62 492.60L1489.22 496.25L1468.96 499.86ZM1951.16 394.67L1976.02 390.00L1981.58 405.97L1956.71 410.65ZM1468.96 499.86L1489.22 496.25L1494.53 512.44L1474.26 516.06ZM1509.62 492.60L1530.16 488.92L1550.84 485.21L1571.68 481.46L1577.03 497.62L1556.18 501.38L1535.49 505.10L1514.94 508.78ZM1656.75 466.07L1678.47 462.11L1683.88 478.22L1662.14 482.18ZM1981.58 405.97L2006.73 401.23L2012.31 417.19L1987.14 421.94ZM1474.26 516.06L1494.53 512.44L1499.84 528.63L1479.55 532.26ZM1556.18 501.38L1577.03 497.62L1582.38 513.77L1561.52 517.54ZM1889.31 440.29L1913.36 435.80L1918.89 451.80L1894.83 456.30ZM1520.26 524.97L1540.82 521.27L1561.52 517.54L1566.86 533.70L1546.15 537.44L1525.58 541.15ZM1525.58 541.15L1546.15 537.44L1566.86 533.70L1572.20 549.87L1551.48 553.62L1530.90 557.33Z"/></g>
<g id="axesB"><line class="gv" x1="1506.15" y1="803.00" x2="1506.15" y2="134.70" style="stroke-dasharray:2.48 7.33;stroke-dashoffset:-0.80;stroke-width:2.78"/>
<line class="gh1" x1="1355.20" y1="242.80" x2="2258.50" y2="242.80" style="stroke-dasharray:2.48 7.33;stroke-dashoffset:-0.30;stroke-width:1.79"/>
<line class="gh2" x1="1355.20" y1="245.09" x2="2258.50" y2="245.09" style="stroke-dasharray:2.48 7.33;stroke-dashoffset:-0.30;stroke-width:2.78"/>
<line class="gv" x1="1656.70" y1="803.00" x2="1656.70" y2="134.70" style="stroke-dasharray:2.48 7.33;stroke-dashoffset:-0.80;stroke-width:2.78"/>
<line class="gh1" x1="1355.20" y1="353.89" x2="2258.50" y2="353.89" style="stroke-dasharray:2.48 7.33;stroke-dashoffset:-0.30;stroke-width:1.79"/>
<line class="gh2" x1="1355.20" y1="356.17" x2="2258.50" y2="356.17" style="stroke-dasharray:2.48 7.33;stroke-dashoffset:-0.30;stroke-width:2.78"/>
<line class="gv3" x1="1806.85" y1="803.00" x2="1806.85" y2="134.70" style="stroke-dasharray:2.48 7.33;stroke-dashoffset:-0.80;stroke-width:4.97"/>
<line class="gh2" x1="1355.20" y1="467.56" x2="2258.50" y2="467.56" style="stroke-dasharray:2.48 7.33;stroke-dashoffset:-0.30;stroke-width:2.78"/>
<line class="gv" x1="1957.80" y1="803.00" x2="1957.80" y2="134.70" style="stroke-dasharray:2.48 7.33;stroke-dashoffset:-0.80;stroke-width:2.78"/>
<line class="gv3" x1="1355.20" y1="578.84" x2="2258.50" y2="578.84" style="stroke-dasharray:2.48 7.33;stroke-dashoffset:-0.30;stroke-width:4.97"/>
<line class="gv" x1="2108.35" y1="803.00" x2="2108.35" y2="134.70" style="stroke-dasharray:2.48 7.33;stroke-dashoffset:-0.80;stroke-width:2.78"/>
<line class="gh2" x1="1355.20" y1="690.92" x2="2258.50" y2="690.92" style="stroke-dasharray:2.48 7.33;stroke-dashoffset:-0.30;stroke-width:2.78"/>
<rect class="box" x="1355.20" y="134.70" width="903.30" height="668.30" style="stroke-width:4.87"/>
<line class="tv" x1="1506.15" y1="134.70" x2="1506.15" y2="144.44" style="stroke-width:2.78"/>
<line class="tv" x1="1506.15" y1="803.00" x2="1506.15" y2="793.26" style="stroke-width:2.78"/>
<line class="th1" x1="1355.20" y1="242.80" x2="1364.94" y2="242.80" style="stroke-width:1.79"/>
<line class="th2" x1="1355.20" y1="245.09" x2="1364.94" y2="245.09" style="stroke-width:2.78"/>
<line class="th1" x1="2258.50" y1="242.80" x2="2248.76" y2="242.80" style="stroke-width:1.79"/>
<line class="th2" x1="2258.50" y1="245.09" x2="2248.76" y2="245.09" style="stroke-width:2.78"/>
<line class="tv" x1="1656.70" y1="134.70" x2="1656.70" y2="144.44" style="stroke-width:2.78"/>
<line class="tv" x1="1656.70" y1="803.00" x2="1656.70" y2="793.26" style="stroke-width:2.78"/>
<line class="th1" x1="1355.20" y1="353.89" x2="1364.94" y2="353.89" style="stroke-width:1.79"/>
<line class="th2" x1="1355.20" y1="356.17" x2="1364.94" y2="356.17" style="stroke-width:2.78"/>
<line class="th1" x1="2258.50" y1="353.89" x2="2248.76" y2="353.89" style="stroke-width:1.79"/>
<line class="th2" x1="2258.50" y1="356.17" x2="2248.76" y2="356.17" style="stroke-width:2.78"/>
<line class="tv3" x1="1806.85" y1="134.70" x2="1806.85" y2="144.44" style="stroke-width:4.97"/>
<line class="tv3" x1="1806.85" y1="803.00" x2="1806.85" y2="793.26" style="stroke-width:4.97"/>
<line class="th2" x1="1355.20" y1="467.56" x2="1364.94" y2="467.56" style="stroke-width:2.78"/>
<line class="th2" x1="2258.50" y1="467.56" x2="2248.76" y2="467.56" style="stroke-width:2.78"/>
<line class="tv" x1="1957.80" y1="134.70" x2="1957.80" y2="144.44" style="stroke-width:2.78"/>
<line class="tv" x1="1957.80" y1="803.00" x2="1957.80" y2="793.26" style="stroke-width:2.78"/>
<line class="tv3" x1="1355.20" y1="578.84" x2="1364.94" y2="578.84" style="stroke-width:4.97"/>
<line class="tv3" x1="2258.50" y1="578.84" x2="2248.76" y2="578.84" style="stroke-width:4.97"/>
<line class="tv" x1="2108.35" y1="134.70" x2="2108.35" y2="144.44" style="stroke-width:2.78"/>
<line class="tv" x1="2108.35" y1="803.00" x2="2108.35" y2="793.26" style="stroke-width:2.78"/>
<line class="th2" x1="1355.20" y1="690.92" x2="1364.94" y2="690.92" style="stroke-width:2.78"/>
<line class="th2" x1="2258.50" y1="690.92" x2="2248.76" y2="690.92" style="stroke-width:2.78"/></g>
<circle class="mk" cx="1992.5" cy="357.0" r="11.23"/>
<rect x="1060.4" y="722.65" width="49.3" height="67.45" fill="#6cbd45"/>
<rect x="1060.4" y="655.50" width="49.3" height="67.45" fill="#6dcddd"/>
<rect x="1060.4" y="588.35" width="49.3" height="67.45" fill="#3f79be"/>
<rect x="1060.4" y="521.20" width="49.3" height="67.45" fill="#3953a4"/>
<rect x="1060.4" y="454.05" width="49.3" height="67.45" fill="#6b519f"/>
<rect x="1060.4" y="386.90" width="49.3" height="67.45" fill="#b9529f"/>
<rect x="1060.4" y="319.75" width="49.3" height="67.45" fill="#ec118c"/>
<rect x="1060.4" y="252.60" width="49.3" height="67.45" fill="#ed1c24"/>
<rect x="1060.4" y="185.45" width="49.3" height="67.45" fill="#7c1416"/>
<rect x="1060.4" y="118.30" width="49.3" height="67.45" fill="#040404"/>
<rect class="cbb" x="1061.5" y="119.4" width="47.1" height="669.3"/>
<text class="cb" transform="translate(1124.00 804.90) scale(0.880 1.000)" font-size="45.40">1</text>
<line class="cbt" x1="1103.70" y1="715.19" x2="1109.70" y2="715.19"/>
<text class="cb" transform="translate(1124.00 730.29) scale(0.880 1.000)" font-size="45.40">2</text>
<line class="cbt" x1="1103.70" y1="640.58" x2="1109.70" y2="640.58"/>
<text class="cb" transform="translate(1124.00 655.68) scale(0.880 1.000)" font-size="45.40">3</text>
<line class="cbt" x1="1103.70" y1="565.97" x2="1109.70" y2="565.97"/>
<text class="cb" transform="translate(1124.00 581.07) scale(0.880 1.000)" font-size="45.40">4</text>
<line class="cbt" x1="1103.70" y1="491.36" x2="1109.70" y2="491.36"/>
<text class="cb" transform="translate(1124.00 506.46) scale(0.880 1.000)" font-size="45.40">5</text>
<line class="cbt" x1="1103.70" y1="416.74" x2="1109.70" y2="416.74"/>
<text class="cb" transform="translate(1124.00 431.84) scale(0.880 1.000)" font-size="45.40">6</text>
<line class="cbt" x1="1103.70" y1="342.13" x2="1109.70" y2="342.13"/>
<text class="cb" transform="translate(1124.00 357.23) scale(0.880 1.000)" font-size="45.40">7</text>
<line class="cbt" x1="1103.70" y1="267.52" x2="1109.70" y2="267.52"/>
<text class="cb" transform="translate(1124.00 282.62) scale(0.880 1.000)" font-size="45.40">8</text>
<line class="cbt" x1="1103.70" y1="192.91" x2="1109.70" y2="192.91"/>
<text class="cb" transform="translate(1124.00 208.01) scale(0.880 1.000)" font-size="45.40">9</text>
<text class="cb" transform="translate(1122.30 133.40) scale(0.975 1.000)" font-size="45.40">10</text>
<rect x="2283.3" y="580.13" width="49.3" height="222.87" fill="#3953a4"/>
<rect x="2283.3" y="357.57" width="49.3" height="222.87" fill="#ed1c24"/>
<rect x="2283.3" y="135.00" width="49.3" height="222.87" fill="#c9a089"/>
<rect class="cbb" x="2284.4" y="136.1" width="47.1" height="665.5"/>
<line class="cbt" x1="2326.60" y1="691.42" x2="2332.60" y2="691.42"/>
<text class="cb" transform="translate(2344.10 706.30) scale(0.907 1.000)" font-size="42.80">WA</text>
<line class="cbt" x1="2326.60" y1="468.85" x2="2332.60" y2="468.85"/>
<text class="cb" transform="translate(2343.70 483.90) scale(0.830 1.000)" font-size="42.80">BB</text>
<line class="cbt" x1="2326.60" y1="246.28" x2="2332.60" y2="246.28"/>
<text class="cb" transform="translate(2343.30 260.20) scale(0.985 1.000)" font-size="42.80">DD</text>
<g id="labels" filter="url(#soft2)">
<text class="lab" font-size="45.70"><tspan x="8.90" y="142.80">31</tspan><tspan x="60.30" y="121.00" font-size="38.30">o</tspan><tspan x="82.80" y="143.10" font-size="47.50">S</tspan></text>
<text class="lab" font-size="45.70"><tspan x="8.90" y="479.00">32</tspan><tspan x="60.30" y="457.20" font-size="38.30">o</tspan><tspan x="82.80" y="479.30" font-size="47.50">S</tspan></text>
<text class="lab" font-size="45.70"><tspan x="8.90" y="815.20">33</tspan><tspan x="60.30" y="793.40" font-size="38.30">o</tspan><tspan x="82.80" y="815.50" font-size="47.50">S</tspan></text>
<text class="lab" font-size="45.70"><tspan x="73.20" y="846.90">66</tspan><tspan x="124.60" y="825.10" font-size="38.30">o</tspan><tspan x="147.50" y="847.10" font-size="46.70">W</tspan></text>
<text class="lab" font-size="45.70"><tspan x="376.20" y="846.90">65</tspan><tspan x="427.60" y="825.10" font-size="38.30">o</tspan><tspan x="450.50" y="847.10" font-size="46.70">W</tspan></text>
<text class="lab" font-size="45.70"><tspan x="679.20" y="846.90">64</tspan><tspan x="730.60" y="825.10" font-size="38.30">o</tspan><tspan x="753.50" y="847.10" font-size="46.70">W</tspan></text>
<text class="lab" font-size="45.70"><tspan x="982.20" y="846.90">63</tspan><tspan x="1033.60" y="825.10" font-size="38.30">o</tspan><tspan x="1056.50" y="847.10" font-size="46.70">W</tspan></text>
<text class="ttl" x="581.60" y="43.70" font-size="43.80">Number of best models.</text>
<text class="ttl" x="581.90" y="97.00" font-size="43.80" style="letter-spacing:0.8px">Orbit: 11568, 06-Jan-2020</text>
<text class="pl" transform="translate(141.20 189.10) scale(0.942 1.000)" font-size="60.20">(a)</text>
<text class="lab" font-size="45.42"><tspan x="1238.34" y="159.35">31</tspan><tspan x="1289.42" y="137.68" font-size="38.06">o</tspan><tspan x="1311.77" y="159.65" font-size="47.21">S</tspan></text>
<text class="lab" font-size="45.42"><tspan x="1238.34" y="493.50">32</tspan><tspan x="1289.42" y="471.83" font-size="38.06">o</tspan><tspan x="1311.77" y="493.80" font-size="47.21">S</tspan></text>
<text class="lab" font-size="45.42"><tspan x="1238.34" y="827.65">33</tspan><tspan x="1289.42" y="805.98" font-size="38.06">o</tspan><tspan x="1311.77" y="827.95" font-size="47.21">S</tspan></text>
<text class="lab" font-size="45.42"><tspan x="1302.23" y="859.16">66</tspan><tspan x="1353.31" y="837.49" font-size="38.06">o</tspan><tspan x="1376.07" y="859.35" font-size="46.41">W</tspan></text>
<text class="lab" font-size="45.42"><tspan x="1603.33" y="859.16">65</tspan><tspan x="1654.41" y="837.49" font-size="38.06">o</tspan><tspan x="1677.17" y="859.35" font-size="46.41">W</tspan></text>
<text class="lab" font-size="45.42"><tspan x="1904.43" y="859.16">64</tspan><tspan x="1955.51" y="837.49" font-size="38.06">o</tspan><tspan x="1978.27" y="859.35" font-size="46.41">W</tspan></text>
<text class="lab" font-size="45.42"><tspan x="2205.53" y="859.16">63</tspan><tspan x="2256.61" y="837.49" font-size="38.06">o</tspan><tspan x="2279.37" y="859.35" font-size="46.41">W</tspan></text>
<text class="ttl" x="1807.45" y="60.85" font-size="43.53">Best model type.</text>
<text class="ttl" x="1807.74" y="113.83" font-size="43.53" style="letter-spacing:0.8px">Orbit: 11568, 06-Jan-2020</text>
<text class="pl" transform="translate(1374.58 202.98) scale(0.942 1.000)" font-size="59.83">(b)</text>
</g>
</svg>
</body></html>
